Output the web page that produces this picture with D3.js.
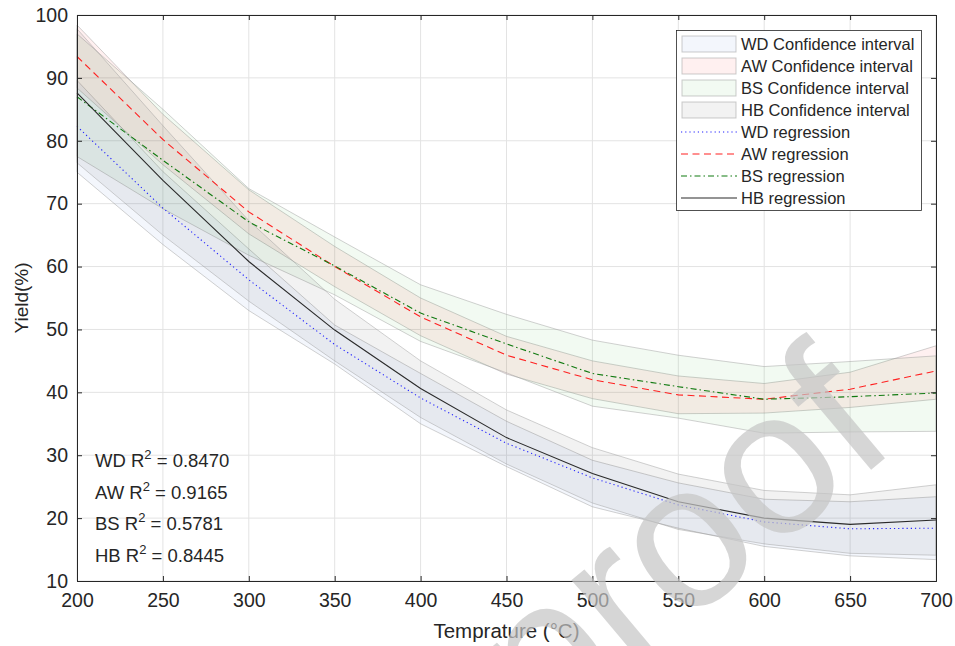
<html lang="en"><head>
<meta http-equiv="Content-Type" content="text/html; charset=UTF-8">
<title>Yield vs temperature</title>
<script type="text/javascript" src="https://cdn.jsdelivr.net/npm/d3@7"></script>
<style type="text/css">
body { margin: 0; background: #fff; }
text { font-family: "Liberation Sans", Arial, sans-serif; fill: #262626; }
</style>
</head>
<body>

<script type="text/javascript">

var width = 955;
var height = 646;

// temperatures (x)
var temps = [200, 250, 300, 350, 400, 450, 500, 550, 600, 650, 700];

// regression lines
var wdReg = [82.3, 69.3, 57.9, 47.6, 39.1, 31.9, 26.4, 22.1, 19.4, 18.3, 18.4];
var awReg = [93.4, 80.2, 68.7, 60.0, 52.0, 45.9, 42.0, 39.6, 38.9, 40.5, 43.4];
var bsReg = [87.0, 76.9, 67.1, 60.1, 52.6, 47.7, 43.0, 40.9, 38.9, 39.3, 39.9];
var hbReg = [87.6, 73.7, 60.8, 49.9, 40.6, 32.8, 27.1, 22.6, 20.0, 19.0, 19.7];

// confidence bands (lower / upper)
var wdLow = [75.0, 63.5, 53.0, 44.5, 35.0, 28.2, 21.8, 18.4, 15.5, 14.0, 13.4];
var wdUp  = [89.6, 75.1, 62.8, 50.7, 43.0, 35.4, 29.2, 25.6, 23.0, 22.6, 23.4];
var awLow = [88.4, 76.2, 65.2, 56.8, 49.0, 42.9, 39.0, 36.6, 36.7, 37.6, 38.9];
var awUp  = [98.4, 84.2, 72.2, 63.2, 55.0, 48.9, 45.0, 42.6, 41.4, 43.2, 47.4];
var bsLow = [77.5, 69.2, 61.8, 55.5, 48.1, 43.1, 37.8, 35.9, 33.5, 33.7, 33.8];
var bsUp  = [97.0, 85.0, 72.4, 64.7, 57.1, 52.4, 48.3, 45.9, 44.1, 44.9, 45.8];
var hbLow = [76.5, 65.0, 54.5, 45.0, 36.0, 28.6, 22.4, 18.2, 15.9, 14.4, 14.1];
var hbUp  = [97.8, 82.4, 67.3, 54.8, 45.0, 37.2, 31.2, 27.0, 24.4, 23.7, 25.3];

var xTicks = [200, 250, 300, 350, 400, 450, 500, 550, 600, 650, 700];
var yTicks = [10, 20, 30, 40, 50, 60, 70, 80, 90, 100];

var r2Names = ["WD", "AW", "BS", "HB"];
var r2Values = ["0.8470", "0.9165", "0.5781", "0.8445"];

var bands = [
  {name: "WD Confidence interval", low: wdLow, up: wdUp, fill: "#7a9ee0", op: 0.09},
  {name: "AW Confidence interval", low: awLow, up: awUp, fill: "#ff2a2a", op: 0.07},
  {name: "BS Confidence interval", low: bsLow, up: bsUp, fill: "#22b022", op: 0.06},
  {name: "HB Confidence interval", low: hbLow, up: hbUp, fill: "#000000", op: 0.05}
];

var lines = [
  {name: "WD regression", vals: wdReg, color: "#2020ff", dash: "1.2,3"},
  {name: "AW regression", vals: awReg, color: "#ff2020", dash: "7,4.5"},
  {name: "BS regression", vals: bsReg, color: "#107a10", dash: "6,3,1.5,3"},
  {name: "HB regression", vals: hbReg, color: "#2a2a2a", dash: null}
];

// plot box (window.top is read only, so other names)
var pL = 77, pR = 936, pT = 15, pB = 581;

var x = d3.scaleLinear().domain([200, 700]).range([pL, pR]);
var y = d3.scaleLinear().domain([10, 100]).range([pB, pT]);

var svg = d3.select("body")
            .append("svg")
            .attr("width", width)
            .attr("height", height);

// grid
svg.append("g")
  .selectAll("line")
  .data(xTicks).enter()
  .append("line")
  .attr("x1", function(d){ return x(d); })
  .attr("x2", function(d){ return x(d); })
  .attr("y1", pT).attr("y2", pB)
  .attr("stroke", "#e3e3e3");

svg.append("g")
  .selectAll("line")
  .data(yTicks).enter()
  .append("line")
  .attr("y1", function(d){ return y(d); })
  .attr("y2", function(d){ return y(d); })
  .attr("x1", pL).attr("x2", pR)
  .attr("stroke", "#e3e3e3");

// bands
var area = d3.area()
  .x(function(d){ return x(d.t); })
  .y0(function(d){ return y(d.lo); })
  .y1(function(d){ return y(d.hi); });

bands.forEach(function(b){
  var pts = temps.map(function(t, i){ return {t: t, lo: b.low[i], hi: b.up[i]}; });
  svg.append("path")
    .datum(pts)
    .attr("d", area)
    .attr("fill", b.fill)
    .attr("fill-opacity", b.op)
    .attr("stroke", "#9a9a9a")
    .attr("stroke-opacity", 0.45)
    .attr("stroke-width", 1);
});

// regression lines
var line = d3.line()
  .x(function(d){ return x(d.t); })
  .y(function(d){ return y(d.v); });

lines.forEach(function(l){
  var pts = temps.map(function(t, i){ return {t: t, v: l.vals[i]}; });
  svg.append("path")
    .datum(pts)
    .attr("d", line)
    .attr("fill", "none")
    .attr("stroke", l.color)
    .attr("stroke-width", 1.1)
    .attr("stroke-dasharray", l.dash);
});

// axes (box with inward ticks)
var xAxis = svg.append("g")
  .attr("transform", "translate(0," + pB + ")")
  .call(d3.axisBottom(x).tickValues(xTicks).tickSize(-5).tickPadding(12));
var xTop = svg.append("g")
  .attr("transform", "translate(0," + pT + ")")
  .call(d3.axisTop(x).tickValues(xTicks).tickSize(-5).tickFormat(""));
var yAxis = svg.append("g")
  .attr("transform", "translate(" + pL + ",0)")
  .call(d3.axisLeft(y).tickValues(yTicks).tickSize(-5).tickPadding(9));
var yRight = svg.append("g")
  .attr("transform", "translate(" + pR + ",0)")
  .call(d3.axisRight(y).tickValues(yTicks).tickSize(-5).tickFormat(""));

[xAxis, xTop, yAxis, yRight].forEach(function(a){
  a.selectAll("path").attr("stroke", "#262626").attr("stroke-width", 1);
  a.selectAll("line").attr("stroke", "#262626");
  a.selectAll("text").attr("font-size", 19.5).attr("fill", "#262626")
   .attr("font-family", "Liberation Sans, Arial, sans-serif");
});

// axis labels
svg.append("text")
  .attr("x", (pL + pR) / 2)
  .attr("y", 638)
  .attr("text-anchor", "middle")
  .attr("font-size", 20.5)
  .text("Temprature (\u00B0C)");

svg.append("text")
  .attr("transform", "translate(28," + (pT + pB) / 2 + ") rotate(-90)")
  .attr("text-anchor", "middle")
  .attr("font-size", 19)
  .text("Yield(%)");

// R^2 annotations
var r2 = svg.append("g");
r2Names.forEach(function(n, i){
  var t = r2.append("text")
    .attr("x", 95)
    .attr("y", 467 + i * 31.5)
    .attr("font-size", 18.5);
  t.append("tspan").text(n + " R");
  t.append("tspan").attr("dy", -8).attr("font-size", 13).text("2");
  t.append("tspan").attr("dy", 8).text(" = " + r2Values[i]);
});

// legend
var lg = svg.append("g");
lg.append("rect")
  .attr("x", 676.5).attr("y", 30.5)
  .attr("width", 245).attr("height", 180)
  .attr("fill", "#fff")
  .attr("stroke", "#262626")
  .attr("stroke-width", 0.8);

var rowY = function(i){ return 44 + i * 22; };

bands.forEach(function(b, i){
  lg.append("rect")
    .attr("x", 682).attr("y", rowY(i) - 8)
    .attr("width", 54).attr("height", 16)
    .attr("fill", b.fill)
    .attr("fill-opacity", b.op)
    .attr("stroke", "#9a9a9a")
    .attr("stroke-opacity", 0.5);
  lg.append("text")
    .attr("x", 741).attr("y", rowY(i) + 6)
    .attr("font-size", 16.5)
    .text(b.name);
});

lines.forEach(function(l, i){
  var yy = rowY(i + 4);
  lg.append("line")
    .attr("x1", 681).attr("x2", 737)
    .attr("y1", yy).attr("y2", yy)
    .attr("stroke", l.color)
    .attr("stroke-width", 1.1)
    .attr("stroke-dasharray", l.dash);
  lg.append("text")
    .attr("x", 741).attr("y", yy + 6)
    .attr("font-size", 16.5)
    .text(l.name);
});

// watermark
svg.append("text")
  .attr("transform", "translate(901,445) rotate(-40)")
  .attr("text-anchor", "end")
  .attr("font-size", 205)
  .style("fill", "#c4c4c4")
  .attr("fill-opacity", 0.7)
  .text("proof");

</script>
</body></html>
